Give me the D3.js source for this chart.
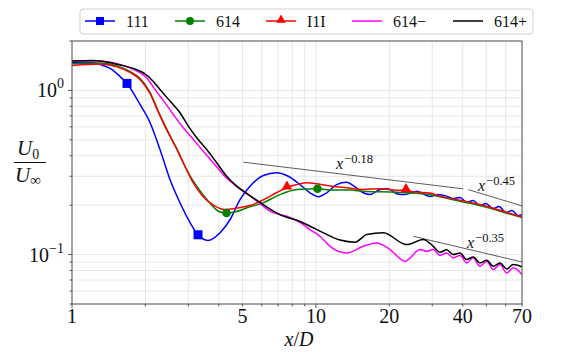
<!DOCTYPE html>
<html><head><meta charset="utf-8">
<script src="https://cdn.jsdelivr.net/npm/d3@7"></script>
<style>body{margin:0;background:#fff;} svg{display:block;} text{font-family:"Liberation Serif","DejaVu Serif",serif;fill:#111;}</style>
</head><body><svg id="c" width="581" height="352"></svg>
<script>
// ---------- data ----------
const seriesNames = ["111", "614", "I1I", "614−", "614+"];
const seriesColors = ["#0000ff", "#008000", "#ff0000", "#ff00ff", "#000000"];

const x111 = [1, 1.185, 1.302, 1.432, 1.573, 1.681, 1.9, 2.088, 2.295, 2.522, 2.772, 3.046, 3.286, 3.611, 4.045, 4.444, 4.884, 5.368, 6.085, 6.908, 7.706, 8.606, 9.458, 10.23, 11.07, 12.17, 13.38, 14.23, 15.64, 16.67, 18.31, 19.75, 21.45, 23.19, 25.9, 29.36, 31.67, 34.38, 36.5, 38.98, 41.65, 44.07, 47.08, 49.82, 53.22, 56.32, 60.16, 63.68, 67.4, 70];
const y111 = [1.481, 1.48, 1.44, 1.362, 1.217, 1.103, 0.822, 0.638, 0.437, 0.287, 0.207, 0.157, 0.132, 0.122, 0.136, 0.163, 0.216, 0.261, 0.303, 0.315, 0.300, 0.267, 0.238, 0.225, 0.238, 0.267, 0.276, 0.263, 0.238, 0.232, 0.249, 0.252, 0.235, 0.232, 0.243, 0.226, 0.232, 0.227, 0.2196, 0.223, 0.2076, 0.2135, 0.199, 0.2046, 0.1907, 0.1962, 0.1803, 0.1854, 0.1729, 0.175];

const x614 = [1, 1.302, 1.529, 1.729, 1.9, 2.088, 2.252, 2.475, 2.695, 2.998, 3.246, 3.622, 3.98, 4.3, 4.66, 5.218, 6.067, 7.125, 8.366, 10.15, 11.75, 13.8, 15.6, 21.5, 29.36, 32.27, 38.98, 47.08, 56.86, 70];
const y614 = [1.455, 1.471, 1.411, 1.306, 1.184, 0.972, 0.755, 0.562, 0.437, 0.315, 0.261, 0.2113, 0.1837, 0.179, 0.1816, 0.1927, 0.2066, 0.232, 0.249, 0.252, 0.247, 0.247, 0.243, 0.2399, 0.232, 0.2248, 0.2113, 0.199, 0.1837, 0.168];

const xI1I = [1, 1.302, 1.529, 1.729, 1.9, 2.088, 2.252, 2.475, 2.695, 2.906, 3.134, 3.444, 3.857, 4.24, 4.749, 5.368, 6.067, 6.926, 7.61, 8.366, 9.195, 10.1, 11.42, 13.41, 15.6, 18.31, 21.5, 23.41, 25.0, 29.36, 32.27, 38.98, 47.08, 56.86, 70];
const yI1I = [1.42, 1.451, 1.391, 1.288, 1.167, 0.959, 0.745, 0.554, 0.437, 0.344, 0.275, 0.226, 0.1975, 0.188, 0.192, 0.199, 0.215, 0.239, 0.256, 0.267, 0.274, 0.27, 0.262, 0.255, 0.249, 0.252, 0.2466, 0.247, 0.241, 0.237, 0.227, 0.2144, 0.202, 0.1863, 0.1693];

const x614m = [1, 1.302, 1.573, 1.784, 2.025, 2.189, 2.367, 2.602, 2.86, 3.143, 3.454, 3.796, 4.173, 4.585, 5.039, 5.368, 5.899, 6.484, 7.59, 8.606, 9.458, 10.39, 11.42, 13.38, 15.64, 17.75, 20.13, 23.19, 26.72, 28.47, 30.29, 32.27, 34.38, 36.59, 38.98, 41.5, 44.18, 47.08, 50.15, 53.37, 56.86, 60.56, 64.45, 70];
const y614m = [1.513, 1.513, 1.44, 1.343, 1.195, 1.014, 0.869, 0.714, 0.592, 0.503, 0.4265, 0.3623, 0.307, 0.27, 0.243, 0.229, 0.2046, 0.1837, 0.1712, 0.157, 0.142, 0.1293, 0.1123, 0.1024, 0.1123, 0.1178, 0.1073, 0.091, 0.1073, 0.1047, 0.1073, 0.0987, 0.1024, 0.0955, 0.0987, 0.089, 0.0955, 0.0849, 0.091, 0.081, 0.0869, 0.0773, 0.083, 0.0755];

const x614p = [1, 1.208, 1.344, 1.573, 1.784, 1.96, 2.155, 2.295, 2.522, 2.772, 2.998, 3.246, 3.567, 3.92, 4.309, 4.735, 5.283, 6.067, 7.125, 8.606, 10.1, 12.56, 14.47, 16.16, 18.9, 23.56, 27.56, 30.29, 32.27, 34.38, 36.59, 38.98, 41.5, 44.18, 47.08, 50.15, 53.37, 56.86, 60.56, 64.45, 70];
const y614p = [1.513, 1.524, 1.502, 1.43, 1.362, 1.282, 1.135, 1.014, 0.861, 0.731, 0.606, 0.515, 0.437, 0.3623, 0.3, 0.261, 0.232, 0.202, 0.175, 0.159, 0.142, 0.1226, 0.1189, 0.1324, 0.1356, 0.115, 0.1235, 0.1123, 0.1033, 0.107, 0.1, 0.1024, 0.0932, 0.0968, 0.089, 0.0923, 0.0849, 0.089, 0.0818, 0.0869, 0.0841];

// marker points
const mark111 = [[1.681, 1.103], [3.286, 0.132]];
const mark614 = [[4.3, 0.179], [10.15, 0.252]];
const markI1I = [[7.61, 0.256], [23.41, 0.247]];

// power-law guide lines y = C * x^p
const guideExp = [-0.18, -0.45, -0.35];
const guideC = [0.489, 1.339, 0.399];
const guideX0 = [5.04, 42.2, 25.07];
const guideX1 = [40.2, 70, 70];
const guideLabelExp = ["−0.18", "−0.45", "−0.35"];
const guideLabelX = [12.09, 46.2, 41.65];
const guideLabelY = [0.330, 0.2456, 0.1103];

// axes
const xDomain = [1, 70];
const yDomain = [0.05, 2];
const xMajorTicks = [1, 10];
const xMinorTicks = [2, 3, 4, 5, 6, 7, 8, 9, 20, 30, 40, 50, 60, 70];
const xTickLabels = [1, 5, 10, 20, 40, 70];
const yMajorTicks = [0.1, 1];
const yMinorTicks = [0.05, 0.06, 0.07, 0.08, 0.09, 0.2, 0.3, 0.4, 0.5, 0.6, 0.7, 0.8, 0.9, 2];
const yTickLabels = [[1, "0"], [0.1, "−1"]];

// ---------- drawing ----------
const L = 72, R = 522, T = 41, B = 304;
const svg = d3.select("#c");
const x = d3.scaleLog().domain(xDomain).range([L, R]);
const y = d3.scaleLog().domain(yDomain).range([B, T]);

svg.append("defs").append("clipPath").attr("id", "clip")
  .append("rect").attr("x", L).attr("y", T).attr("width", R - L).attr("height", B - T);

// grid
const grid = svg.append("g");
grid.selectAll("line.gx").data(xMajorTicks.concat(xMinorTicks)).join("line")
  .attr("x1", d => x(d)).attr("x2", d => x(d)).attr("y1", T).attr("y2", B)
  .attr("stroke", "#e3e3e3").attr("stroke-width", 0.9);
grid.selectAll("line.gy").data(yMajorTicks.concat(yMinorTicks)).join("line")
  .attr("y1", d => y(d)).attr("y2", d => y(d)).attr("x1", L).attr("x2", R)
  .attr("stroke", "#e3e3e3").attr("stroke-width", 0.9);

// guide lines
const guides = svg.append("g");
guideExp.forEach((p, i) => {
  const pts = [guideX0[i], guideX1[i]].map(v => [v, guideC[i] * Math.pow(v, p)]);
  guides.append("line")
    .attr("x1", x(pts[0][0])).attr("y1", y(pts[0][1]))
    .attr("x2", x(pts[1][0])).attr("y2", y(pts[1][1]))
    .attr("stroke", "#333").attr("stroke-width", 0.8);
  const t = guides.append("text").attr("x", x(guideLabelX[i])).attr("y", y(guideLabelY[i]))
    .attr("font-size", 16);
  t.append("tspan").attr("font-style", "italic").text("x");
  t.append("tspan").attr("font-size", 12.5).attr("dy", -6).attr("dx", 1).text(guideLabelExp[i]);
});

// curves
const xs = [x111, x614, xI1I, x614m, x614p];
const ys = [y111, y614, yI1I, y614m, y614p];
const line = d3.line().x(d => x(d[0])).y(d => y(d[1])).curve(d3.curveMonotoneX);
const curves = svg.append("g").attr("clip-path", "url(#clip)");
xs.forEach((xa, i) => {
  curves.append("path").datum(d3.zip(xa, ys[i]))
    .attr("d", line).attr("fill", "none")
    .attr("stroke", seriesColors[i]).attr("stroke-width", 1.5)
    .attr("stroke-linejoin", "round");
});

// markers
const mk = svg.append("g");
mk.selectAll("rect.m").data(mark111).join("rect")
  .attr("x", d => x(d[0]) - 4.5).attr("y", d => y(d[1]) - 4.5)
  .attr("width", 9).attr("height", 9).attr("fill", seriesColors[0]);
mk.selectAll("circle.m").data(mark614).join("circle")
  .attr("cx", d => x(d[0])).attr("cy", d => y(d[1])).attr("r", 4.3)
  .attr("fill", seriesColors[1]);
const tri = d3.symbol().type(d3.symbolTriangle).size(48);
mk.selectAll("path.m").data(markI1I).join("path")
  .attr("d", tri).attr("transform", d => `translate(${x(d[0])},${y(d[1]) - 1})`)
  .attr("fill", seriesColors[2]);

// frame
svg.append("rect").attr("x", L).attr("y", T).attr("width", R - L).attr("height", B - T)
  .attr("fill", "none").attr("stroke", "#555").attr("stroke-width", 1);

// axes ticks
const ax = svg.append("g").attr("stroke", "#555");
ax.selectAll("line.xt").data(xMajorTicks).join("line")
  .attr("x1", d => x(d)).attr("x2", d => x(d)).attr("y1", B).attr("y2", B + 4);
ax.selectAll("line.xm").data(xMinorTicks).join("line")
  .attr("x1", d => x(d)).attr("x2", d => x(d)).attr("y1", B).attr("y2", B + 2.5);
ax.selectAll("line.yt").data(yMajorTicks).join("line")
  .attr("y1", d => y(d)).attr("y2", d => y(d)).attr("x1", L).attr("x2", L - 4);
ax.selectAll("line.ym").data(yMinorTicks).join("line")
  .attr("y1", d => y(d)).attr("y2", d => y(d)).attr("x1", L).attr("x2", L - 2.5);

svg.append("g").selectAll("text").data(xTickLabels).join("text")
  .attr("x", d => x(d)).attr("y", 323).attr("text-anchor", "middle")
  .attr("font-size", 20).text(d => d);

const ytl = svg.append("g").selectAll("text").data(yTickLabels).join("text")
  .attr("x", 64).attr("y", d => y(d[0]) + 7).attr("text-anchor", "end").attr("font-size", 20);
ytl.append("tspan").text("10");
ytl.append("tspan").attr("font-size", 14).attr("dy", -9).text(d => d[1]);

// axis labels
const xl = svg.append("text").attr("x", 299).attr("y", 346).attr("text-anchor", "middle").attr("font-size", 20);
xl.append("tspan").attr("font-style", "italic").text("x");
xl.append("tspan").text("/");
xl.append("tspan").attr("font-style", "italic").text("D");

const num = svg.append("text").attr("x", 17).attr("y", 155).attr("font-size", 21);
num.append("tspan").attr("font-style", "italic").text("U");
num.append("tspan").attr("font-size", 14).attr("dy", 4).text("0");
svg.append("line").attr("x1", 14).attr("x2", 46).attr("y1", 162.5).attr("y2", 162.5)
  .attr("stroke", "#111").attr("stroke-width", 1);
const den = svg.append("text").attr("x", 15).attr("y", 182).attr("font-size", 21);
den.append("tspan").attr("font-style", "italic").text("U");
den.append("tspan").attr("font-size", 15).attr("dy", 3).text("∞");

// legend
const lg = svg.append("g");
lg.append("rect").attr("x", 80).attr("y", 9).attr("width", 453).attr("height", 25).attr("rx", 3)
  .attr("fill", "#fff").attr("stroke", "#cfcfcf").attr("stroke-width", 1);
const legX = [85, 175, 266, 352, 453];
seriesNames.forEach((n, i) => {
  const g = lg.append("g");
  g.append("line").attr("x1", legX[i]).attr("x2", legX[i] + 30).attr("y1", 21).attr("y2", 21)
    .attr("stroke", seriesColors[i]).attr("stroke-width", 1.5);
  const cx = legX[i] + 15;
  if (i === 0) g.append("rect").attr("x", cx - 4).attr("y", 17).attr("width", 8).attr("height", 8).attr("fill", seriesColors[i]);
  if (i === 1) g.append("circle").attr("cx", cx).attr("cy", 21).attr("r", 4).attr("fill", seriesColors[i]);
  if (i === 2) g.append("path").attr("d", d3.symbol().type(d3.symbolTriangle).size(40)).attr("transform", `translate(${cx},20)`).attr("fill", seriesColors[i]);
  g.append("text").attr("x", legX[i] + 41).attr("y", 26.5).attr("font-size", 16).text(n);
});
</script>
</body></html>
